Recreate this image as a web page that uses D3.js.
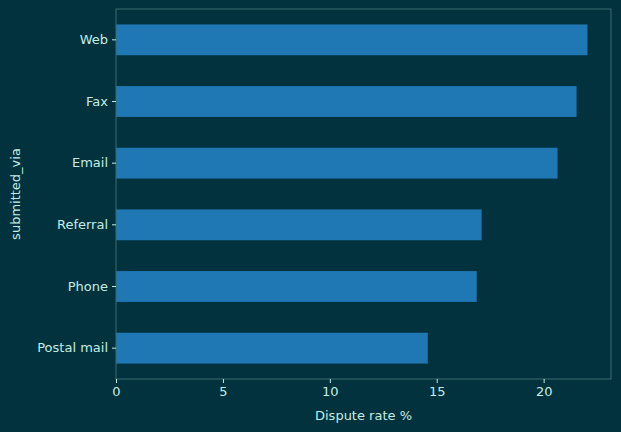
<!DOCTYPE html><html><head><script src="https://cdn.jsdelivr.net/npm/d3@7"></script>
<style>body{margin:0;background:#01323d}</style></head><body><script>
const categories=["Web","Fax","Email","Referral","Phone","Postal mail"];
const values=[22.05,21.54,20.65,17.1,16.87,14.58];
const xTicks=[0,5,10,15,20];
const W=621,H=432,m={l:116,r:10,t:9,b:53};
const svg=d3.select("body").append("svg").attr("width",W).attr("height",H).style("font-family","DejaVu Sans").style("background","#01323d");
const x=d3.scaleLinear().domain([0,23.15]).range([m.l,W-m.r]);
const y=d3.scaleBand().domain(categories).range([m.t,H-m.b]).padding(0.5).paddingOuter(0.25);
const tc="#c6ece4";
svg.selectAll("rect.b").data(values).join("rect").attr("x",x(0)).attr("y",(d,i)=>y(categories[i])).attr("width",d=>x(d)-x(0)).attr("height",y.bandwidth()).attr("fill","#1f77b4");
svg.append("rect").attr("x",m.l).attr("y",m.t).attr("width",W-m.r-m.l).attr("height",H-m.b-m.t).attr("fill","none").attr("stroke","#3c6a70");
const gx=svg.append("g").attr("transform",`translate(0,${H-m.b})`).call(d3.axisBottom(x).tickValues(xTicks).tickSize(4).tickPadding(4));
const gy=svg.append("g").attr("transform",`translate(${m.l},0)`).call(d3.axisLeft(y).tickSize(4).tickPadding(4));
[gx,gy].forEach(g=>{g.select(".domain").remove();g.selectAll("line").attr("stroke",tc);g.selectAll("text").attr("fill",tc).style("font-size","13px").style("font-family","DejaVu Sans");});
svg.append("text").attr("x",(m.l+W-m.r)/2).attr("y",420).attr("text-anchor","middle").attr("fill",tc).style("font-size","13px").text("Dispute rate %");
svg.append("text").attr("transform",`translate(20,${(m.t+H-m.b)/2}) rotate(-90)`).attr("text-anchor","middle").attr("fill",tc).style("font-size","13px").text("submitted_via");
</script></body></html>
